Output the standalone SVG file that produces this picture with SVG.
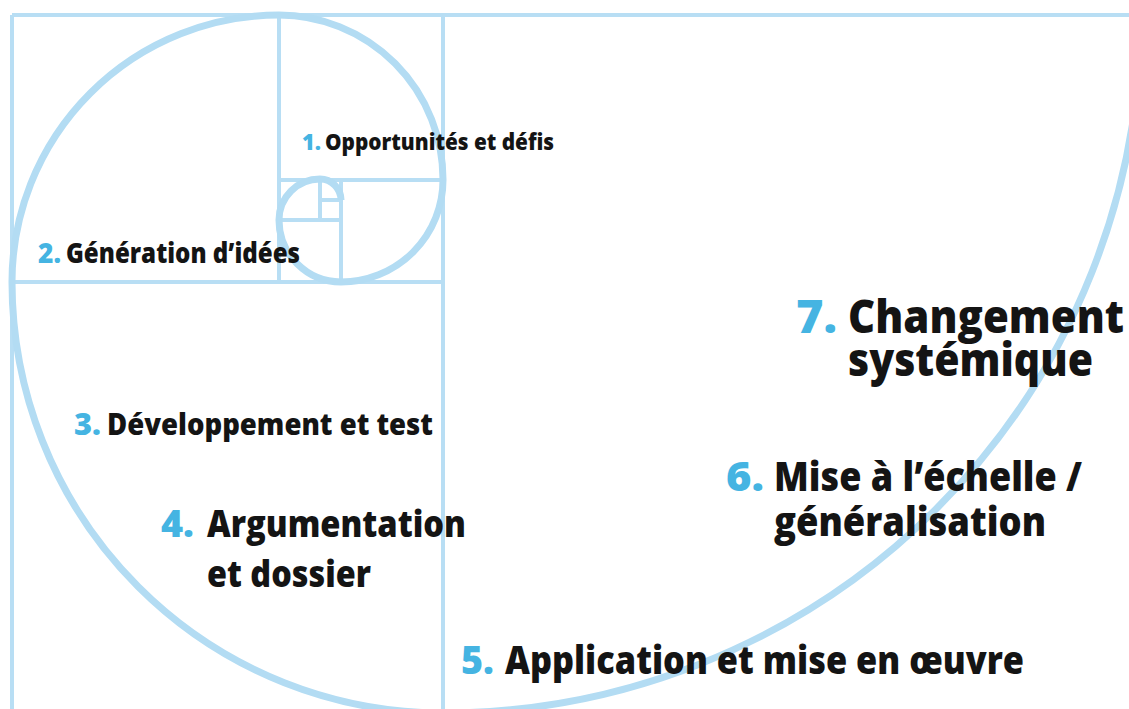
<svg xmlns="http://www.w3.org/2000/svg" width="1129" height="709" viewBox="0 0 1129 709">
  <style>
    .frame { fill: none; stroke: #b8def4; stroke-width: 4; }
    .spiral { fill: none; stroke: #b3dcf3; stroke-width: 7; stroke-linecap: butt; }
    text { font-family: "Open Sans", "Noto Sans", "Liberation Sans", sans-serif; font-weight: 800; }
    .num { fill: #45b4e2; }
    .lbl { fill: #141414; }
  </style>
  <rect x="0" y="0" width="1129" height="709" fill="#ffffff"/>
  <g id="frame" class="frame">
    <line x1="12" y1="15" x2="1129" y2="15"/>
    <line x1="12" y1="15" x2="12" y2="709"/>
    <line x1="443" y1="15" x2="443" y2="709"/>
    <line x1="279" y1="15" x2="279" y2="282"/>
    <line x1="12" y1="282" x2="443" y2="282"/>
    <line x1="279" y1="180" x2="443" y2="180"/>
    <line x1="341" y1="180" x2="341" y2="282"/>
    <line x1="279" y1="220" x2="341" y2="220"/>
    <line x1="320" y1="180" x2="320" y2="220"/>
    <line x1="320" y1="200" x2="341" y2="200"/>
  </g>
  <g id="connectors">
    <path class="spiral" d="M 1141 15 A 698 698 0 0 1 443 713 A 431 431 0 0 1 12 282 A 267 267 0 0 1 279 15 A 164.5 164.5 0 0 1 443 180 A 102 102 0 0 1 341 282 A 62 62 0 0 1 279 220 A 41 41 0 0 1 320 179 A 21 21 0 0 1 341 200"/>
  </g>
  <g id="step1">
    <text class="num" x="302" y="150" font-size="22" textLength="19" lengthAdjust="spacingAndGlyphs">1.</text>
    <text class="lbl" x="325" y="150" font-size="22" textLength="229" lengthAdjust="spacingAndGlyphs">Opportunités et défis</text>
  </g>
  <g id="step2">
    <text class="num" x="38" y="263" font-size="27.5" textLength="23" lengthAdjust="spacingAndGlyphs">2.</text>
    <text class="lbl" x="66" y="263" font-size="27.5" textLength="234" lengthAdjust="spacingAndGlyphs">Génération d’idées</text>
  </g>
  <g id="step3">
    <text class="num" x="74" y="435" font-size="30.5" textLength="27" lengthAdjust="spacingAndGlyphs">3.</text>
    <text class="lbl" x="107" y="435" font-size="30.5" textLength="326" lengthAdjust="spacingAndGlyphs">Développement et test</text>
  </g>
  <g id="step4">
    <text class="num" x="161" y="537" font-size="36.5" textLength="33" lengthAdjust="spacingAndGlyphs">4.</text>
    <text class="lbl" x="207" y="537" font-size="36.5" textLength="259" lengthAdjust="spacingAndGlyphs">Argumentation</text>
    <text class="lbl" x="207" y="587" font-size="36.5" textLength="164" lengthAdjust="spacingAndGlyphs">et dossier</text>
  </g>
  <g id="step5">
    <text class="num" x="461" y="674" font-size="39.5" textLength="33" lengthAdjust="spacingAndGlyphs">5.</text>
    <text class="lbl" x="505" y="674" font-size="39.5" textLength="519" lengthAdjust="spacingAndGlyphs">Application et mise en œuvre</text>
  </g>
  <g id="step6">
    <text class="num" x="726" y="491" font-size="41" textLength="38" lengthAdjust="spacingAndGlyphs">6.</text>
    <text class="lbl" x="774" y="491" font-size="41" textLength="308" lengthAdjust="spacingAndGlyphs">Mise à l’échelle /</text>
    <text class="lbl" x="774" y="536" font-size="41" textLength="272" lengthAdjust="spacingAndGlyphs">généralisation</text>
  </g>
  <g id="step7">
    <text class="num" x="796" y="333" font-size="45.5" textLength="41" lengthAdjust="spacingAndGlyphs">7.</text>
    <text class="lbl" x="848" y="333" font-size="45.5" textLength="276" lengthAdjust="spacingAndGlyphs">Changement</text>
    <text class="lbl" x="848" y="376" font-size="45.5" textLength="245" lengthAdjust="spacingAndGlyphs">systémique</text>
  </g>
</svg>
